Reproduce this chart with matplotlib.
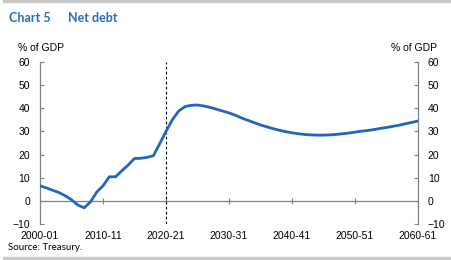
import matplotlib
matplotlib.use('Agg')
import matplotlib.pyplot as plt
from matplotlib.patches import Rectangle

# Datos: deuda neta (% del PIB), años fiscales 2000-01 a 2060-61
anios = list(range(2000, 2061))
deuda_neta = [
    6.5, 5.6, 4.6, 3.6, 2.2, 0.5, -1.8, -3.0, -0.5, 3.8,
    6.5, 10.4, 10.4, 13.0, 15.5, 18.3, 18.4, 18.8, 19.5, 24.7,
    30.0, 35.0, 38.8, 40.7, 41.3, 41.4, 41.0, 40.4, 39.6, 38.8,
    38.0, 37.0, 35.8, 34.8, 33.8, 32.8, 32.0, 31.2, 30.5, 29.9,
    29.4, 29.0, 28.7, 28.5, 28.4, 28.4, 28.5, 28.7, 29.0, 29.3,
    29.7, 30.1, 30.4, 30.8, 31.3, 31.7, 32.2, 32.7, 33.3, 33.9,
    34.5,
]
posiciones_x = [2000, 2010, 2020, 2030, 2040, 2050, 2060]
etiquetas_x = ['2000-01', '2010-11', '2020-21', '2030-31', '2040-41', '2050-51', '2060-61']
valores_y = [-10, 0, 10, 20, 30, 40, 50, 60]

azul = '#1F67B8'
gris = '#808080'
plt.rcParams['font.family'] = ['Liberation Sans', 'DejaVu Sans']

W, H = 451, 260
fig = plt.figure(figsize=(W / 100, H / 100), dpi=100)
ax = fig.add_axes([40 / W, 1 - 224 / H, 378 / W, 162 / H])

ax.plot(anios, deuda_neta, color=azul, linewidth=2.0, solid_capstyle='round', zorder=3)
ax.axhline(0, color=gris, linewidth=0.9, zorder=1)
ax.axvline(2020, color='black', linestyle=(0, (2.5, 2)), linewidth=0.8, zorder=2)

ax.set_xlim(2000, 2060)
ax.set_ylim(-10, 60)

# Ejes y (izquierda y derecha)
ax.set_yticks(valores_y)
ax.tick_params(axis='y', which='both', direction='in', length=3, width=0.8, color=gris,
               labelsize=7.5, left=True, right=True, labelleft=True, labelright=True, pad=7)
for lado in ['left', 'right']:
    ax.spines[lado].set_color(gris)
    ax.spines[lado].set_linewidth(0.9)
for lado in ['top', 'bottom']:
    ax.spines[lado].set_visible(False)

# Eje x: etiquetas abajo, marcas sobre la linea del cero
ax.set_xticks(posiciones_x)
ax.set_xticklabels(etiquetas_x)
ax.tick_params(axis='x', length=0, labelsize=7.5, pad=5)
sec = ax.secondary_xaxis(10 / 70)
sec.set_xticks(posiciones_x[1:-1])
sec.tick_params(axis='x', direction='inout', length=5, width=0.8, color=gris, labelbottom=False)
sec.spines['bottom'].set_visible(False)

fig.text(18 / W, 1 - 48 / H, '% of GDP', fontsize=7.5, va='center', ha='left')
fig.text(437 / W, 1 - 48 / H, '% of GDP', fontsize=7.5, va='center', ha='right')

fig.text(9 / W, 1 - 18 / H, 'Chart 5', fontsize=9, fontweight='bold', color='#2E6BB5',
         family=['Lato', 'DejaVu Sans'], va='center', ha='left')
fig.text(68 / W, 1 - 18 / H, 'Net debt', fontsize=9, fontweight='bold', color='#2E6BB5',
         family=['Lato', 'DejaVu Sans'], va='center', ha='left')
fig.text(8 / W, 1 - 248 / H, 'Source: Treasury.', fontsize=7, family=['Lato', 'DejaVu Sans'],
         va='center', ha='left')

# Barras grises de arriba y abajo
fig.patches.append(Rectangle((3 / W, 1 - 2 / H), 1, 2 / H, transform=fig.transFigure,
                             color='#C8C8C8', zorder=0))
fig.patches.append(Rectangle((3 / W, 1 - 259 / H), 1, 2 / H, transform=fig.transFigure,
                             color='#C8C8C8', zorder=0))

fig.savefig('out.png', dpi=100)
